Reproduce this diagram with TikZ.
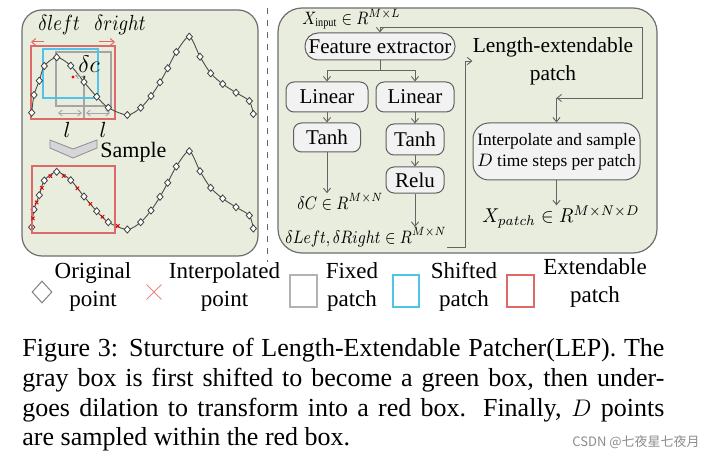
\documentclass[tikz,border=0pt]{standalone}
\usepackage{fontspec}
\setmainfont{Liberation Serif}
\newfontfamily\cjkfont{Noto Sans CJK SC}
\usepackage{amsmath}
\usepackage{graphicx}
\usepackage{xcolor}
\usepackage{tikz}
\usetikzlibrary{shapes.geometric, shapes.misc, positioning, calc, arrows.meta}

\definecolor{panelfill}{RGB}{233,237,221}
\definecolor{panelline}{RGB}{110,110,110}
\definecolor{boxfill}{RGB}{242,242,242}
\definecolor{boxline}{RGB}{95,95,95}
\definecolor{wirec}{RGB}{100,100,100}
\definecolor{fixedc}{RGB}{165,165,165}
\definecolor{shiftc}{RGB}{80,195,235}
\definecolor{extc}{RGB}{222,105,105}
\definecolor{chevfill}{RGB}{214,214,218}

% condensed math labels
\newcommand{\narrowmath}[1]{\scalebox{0.85}[1]{$#1$}}

\begin{document}
\begin{tikzpicture}[x=0.5pt, y=-0.5pt,
    panel/.style={draw=panelline, fill=panelfill, line width=0.6pt, rounded corners=10pt},
    blk/.style={draw=boxline, fill=boxfill, line width=0.5pt, rounded corners=4pt, inner sep=0pt, font=\fontsize{10.5}{12}\selectfont},
    wire/.style={draw=wirec, line width=0.45pt},
    arr/.style={wire, -{Straight Barb[length=2.2pt, width=3.6pt]}},
    orig/.style={diamond, draw=black!75, fill=white, line width=0.4pt, inner sep=0pt, minimum width=3.3pt, minimum height=3.7pt},
    interp/.style={cross out, draw=red!85!black, line width=0.45pt, inner sep=0pt, minimum size=1.3pt},
    curve/.style={draw=black!70, line width=0.45pt},
    legtxt/.style={align=center, inner sep=0pt, font=\fontsize{11.5}{14}\selectfont},
    mathlbl/.style={inner sep=0pt, font=\fontsize{9}{11}\selectfont},
  ]
    \useasboundingbox (0,0) rectangle (707,460);

    % Two panels and the dashed separator
    \draw[panel] (22,10) rectangle (258,256);
    \draw[panel, rounded corners=12pt] (278,8) rectangle (657,253);
    \draw[draw=black!60, dashed, line width=0.5pt] (267,8) -- (267,262);

    % ---------- left panel: patches on the series ----------
    \node[anchor=base west, inner sep=0pt, font=\fontsize{10.5}{12}\selectfont] (dleft) at (38,31) {\narrowmath{\delta left}};
    \node[anchor=base west, inner sep=0pt, font=\fontsize{10.5}{12}\selectfont] (dright) at (94,31) {\narrowmath{\delta right}};
    \draw[draw=extc, line width=0.5pt, -{Straight Barb[length=2pt, width=3.5pt]}] (44,42) -- (31,42);
    \draw[draw=extc, line width=0.5pt, -{Straight Barb[length=2pt, width=3.5pt]}] (99,42) -- (115,42);

    % Fixed, shifted and extendable patch boxes
    \draw[draw=fixedc, line width=0.55pt] (56,52) rectangle (111,106);
    \draw[draw=fixedc, line width=0.55pt] (84,77) -- (84,119);
    \draw[draw=shiftc, line width=0.55pt] (43,49) rectangle (98,98);
    \draw[draw=extc, line width=0.6pt] (31,46) rectangle (115,119);

    % Two series, the second one shifted down
    \foreach \row/\dy in {up/0, low/114.5} {
      \begin{scope}[shift={(0,\dy)}]
        \draw[curve] plot[smooth, tension=0.5] coordinates {(31.7,112.7) (34,95) (39.3,80.7) (44.3,66) (56.7,57.3) (70.7,65.7) (84,82) (96.7,96.7) (108.3,107.7) (127.3,115) (140.7,107.7) (151,96) (160,82.3) (167.7,68.3) (176.3,52) (189.3,36.7) (200,56.7) (210.7,73.3) (222.7,84) (236,92.7) (249.3,101) (253.3,114)};
        \foreach \px/\py [count=\k] in {31.7/112.7, 34/95, 39.3/80.7, 44.3/66, 56.7/57.3, 70.7/65.7, 84/82, 96.7/96.7, 108.3/107.7, 127.3/115, 140.7/107.7, 151/96, 160/82.3, 167.7/68.3, 176.3/52, 189.3/36.7, 200/56.7, 210.7/73.3, 222.7/84, 236/92.7, 249.3/101, 253.3/114}
          \node[orig] (\row\k) at (\px,\py) {};
      \end{scope}
    }

    % Shift of the centre
    \fill[black!80] (84,77) circle (0.8pt);
    \draw[draw=fixedc, line width=0.45pt, -{Straight Barb[length=1.6pt, width=2.6pt]}] (84,77) -- (75,75.5);
    \fill[red] (73,77) circle (0.8pt);
    \node[inner sep=0pt, font=\fontsize{11.5}{12}\selectfont] (dc) at (89,64) {$\delta c$};

    % Fixed length marks
    \draw[draw=fixedc, line width=0.45pt, {Straight Barb[length=1.8pt, width=3pt]}-{Straight Barb[length=1.8pt, width=3pt]}] (58,113) -- (82,113);
    \draw[draw=fixedc, line width=0.45pt, {Straight Barb[length=1.8pt, width=3pt]}-{Straight Barb[length=1.8pt, width=3pt]}] (86,113) -- (110,113);
    \node[inner sep=0pt, font=\fontsize{11}{12}\selectfont] (lone) at (67,130) {$l$};
    \node[inner sep=0pt, font=\fontsize{11}{12}\selectfont] (ltwo) at (103,130) {$l$};

    % Sample chevron
    \draw[fill=chevfill, draw=black!45, line width=0.4pt] (50,140) -- (73,149) -- (97,140) -- (97,148) -- (73,158) -- (50,148) -- cycle;
    \node[anchor=base west, inner sep=0pt, font=\fontsize{11}{12}\selectfont] (sample) at (100,158) {Sample};

    % Extendable patch and interpolated points on the second series
    \draw[draw=extc, line width=0.6pt] (32,166) rectangle (115,233);
    \foreach \a/\b in {1/2, 2/3, 3/4, 4/5, 5/6, 6/7, 7/8, 8/9, 9/10}
      \node[interp] (ip\a) at ($(low\a)!0.5!(low\b)$) {};

    % ---------- right panel: network ----------
    \node[anchor=base west, mathlbl] (xin) at (302,25) {\narrowmath{X_{\mathrm{input}} \in R^{M\times L}}};
    \coordinate (tap) at (380,27);
    \coordinate (corner) at (642,98);

    \node[blk, rounded corners=6.5pt, minimum width=75pt, minimum height=13.5pt] (fe) at (380,46.5) {Feature extractor};
    \node[blk, minimum width=41pt, minimum height=15pt] (lin1) at (327,97) {Linear};
    \node[blk, minimum width=39pt, minimum height=15pt] (lin2) at (415,97) {Linear};
    \node[blk, minimum width=33.5pt, minimum height=14.5pt] (tanh1) at (327,137.5) {Tanh};
    \node[blk, minimum width=29pt, minimum height=15.5pt] (tanh2) at (415,139.5) {Tanh};
    \node[blk, minimum width=29pt, minimum height=13pt] (relu) at (415,180) {Relu};
    \node[anchor=west, mathlbl] (dcout) at (297,202) {\narrowmath{\delta C \in R^{M\times N}}};
    \node[anchor=west, mathlbl] (dlr) at (285,237) {\narrowmath{\delta Left, \delta Right \in R^{M\times N}}};

    \node[align=center, inner sep=0pt, font=\fontsize{10.7}{14}\selectfont] (lep) at (553,61) {Length-extendable\\patch};
    \node[blk, rounded corners=8pt, minimum width=83.5pt, minimum height=28.5pt, align=center, font=\fontsize{8.7}{10.5}\selectfont] (interp) at (556.5,151.5) {Interpolate and sample\\$D$ time steps per patch};
    \node[anchor=west, inner sep=0pt, font=\fontsize{10}{12}\selectfont] (xp) at (482,217) {\scalebox{0.94}[1]{$X_{patch} \in R^{M\times N\times D}$}};
    \coordinate (join) at (interp.north |- corner);

    % Connectors
    \draw[arr] (tap) -- (fe.north);
    \draw[arr] (tap) -| (corner) -- (join);
    \draw[arr] (join) -- (interp.north);
    \coordinate (split) at (380,70);
    \draw[wire] (fe.south) -- (split);
    \draw[arr] (split) -| (lin1.north);
    \draw[arr] (split) -| (lin2.north);
    \draw[arr] (lin1.south) -- (tanh1.north);
    \draw[arr] (lin2.south) -- (tanh2.north);
    \draw[arr] (tanh2.south) -- (relu.north);
    \draw[arr] (tanh1.south) -- (tanh1.south |- dcout.north);
    \draw[arr] (relu.south) -- (relu.south |- dlr.north);
    \coordinate (upbend) at (465,61);
    \draw[arr] (dlr.south east) -| (upbend) -- (lep.west);
    \draw[arr] (interp.south) -- (interp.south |- xp.north);

    % ---------- legend ----------
    \node[diamond, draw=black!50, fill=white, line width=0.5pt, inner sep=0pt, minimum width=10pt, minimum height=11pt] (lgorig) at (42,292) {};
    \node[legtxt] (lgorigt) at (93,287) {Original\\point};
    \node[cross out, draw=extc!80, line width=0.45pt, inner sep=0pt, minimum size=7pt] (lgint) at (154,292) {};
    \node[legtxt] (lgintt) at (224.5,287) {Interpolated\\point};
    \node[draw=black!30, line width=0.6pt, minimum width=13.5pt, minimum height=16pt, inner sep=0pt] (lgfix) at (303.5,291) {};
    \node[legtxt] (lgfixt) at (352,287) {Fixed\\patch};
    \node[draw=shiftc, line width=0.6pt, minimum width=13pt, minimum height=16pt, inner sep=0pt] (lgsh) at (406,291) {};
    \node[legtxt] (lgsht) at (464,287) {Shifted\\patch};
    \node[draw=extc, line width=0.6pt, minimum width=13.5pt, minimum height=16pt, inner sep=0pt] (lgext) at (520.5,291) {};
    \node[legtxt] (lgextt) at (595,283) {Extendable\\patch};

    % ---------- caption ----------
    \node[anchor=north west, inner sep=0pt, text width=321pt, align=justify, font=\fontsize{13}{14.85}\selectfont] (cap) at (22,338)
      {Figure 3: Sturcture of Length-Extendable Patcher(LEP). The\linebreak
       gray box is first shifted to become a green box, then under-\linebreak
       goes dilation to transform into a red box. Finally, $D$ points\linebreak
       are sampled within the red box.};
    \node[anchor=east, inner sep=0pt, text=black!45, font=\cjkfont\fontsize{6.5}{8}\selectfont] (mark) at (700,442) {CSDN @七夜星七夜月};

\end{tikzpicture}
\end{document}
